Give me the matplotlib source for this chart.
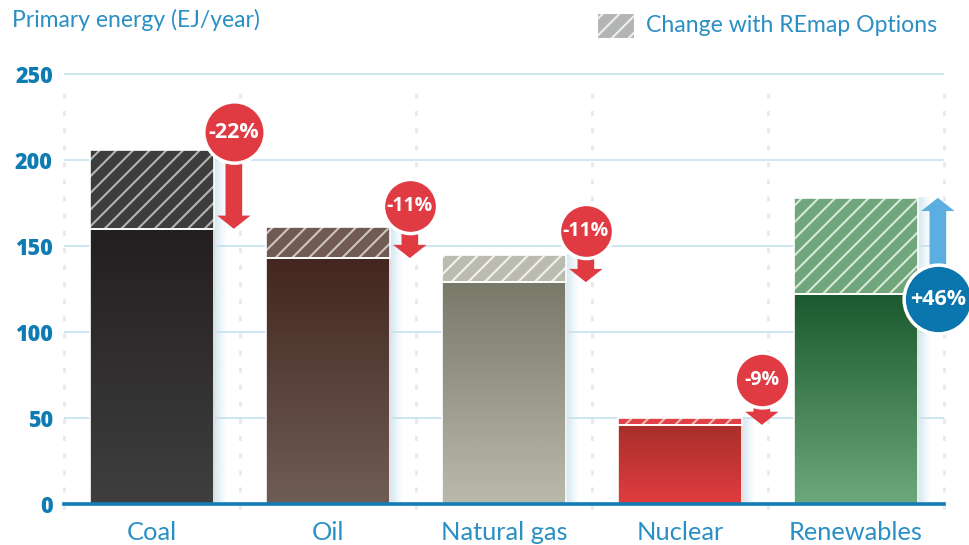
import numpy as np
import matplotlib
matplotlib.use("Agg")
import matplotlib.pyplot as plt
from matplotlib.patches import Rectangle
from matplotlib.colors import to_rgb

plt.rcParams['font.family'] = ['Lato', 'DejaVu Sans']
plt.rcParams['hatch.linewidth'] = 1.5

# --- data ---
categories = ["Coal", "Oil", "Natural gas", "Nuclear", "Renewables"]
reference = [206, 161, 145, 50, 122]     # REmap reference (EJ/year)
remap = [160, 143, 129, 46, 178]         # with REmap Options
change_labels = ["-22%", "-11%", "-11%", "-9%", "+46%"]
yticks = [0, 50, 100, 150, 200, 250]

# --- styles ---
grad_top = ["#231f20", "#43261f", "#79796a", "#a62f2a", "#1b5a2e"]
grad_bot = ["#3f3f3f", "#6e5d56", "#b9baad", "#e23c40", "#6ba87b"]
hatch_face = ["#3d3d3d", "#6f5b53", "#bbbcaf", "#e14048", "#71a57b"]
hatch_line = ["#b4b4b4", "#cfc5bf", "#f2f2ec", "#f7b8b8", "#d6ead8"]
badge_y = [216, 173, 159, 72, 119]
badge_size = [1950, 1520, 1520, 1560, 2450]
badge_font = [15.5, 14, 14, 14, 15.5]
red = "#e03a43"
blue_badge = "#0a76ad"
blue_arrow = "#5aaee0"
text_blue = "#2a8fc4"
tick_blue = "#0f7bb3"
bold_font = ['Open Sans', 'DejaVu Sans']

fig = plt.figure(figsize=(9.7, 5.45), dpi=100)
ax = fig.add_axes([64/970, 1-504/545, 880/970, 262*1.72/545])
ax.set_xlim(-0.5, 4.5)
ax.set_ylim(0, 262)

W = 0.71
x = np.arange(len(categories))

# grid
for t in yticks[1:]:
    ax.axhline(t, color="#c3e1f0", lw=1.2, zorder=0)
for s in np.arange(-0.5, 5, 1.0):
    ax.plot([s, s], [-3, 244], color="#e1edf4", lw=2.2, ls=(0, (1.6, 4)),
            zorder=0, clip_on=False)

for i in range(len(categories)):
    lo, hi = min(reference[i], remap[i]), max(reference[i], remap[i])
    x0 = x[i] - W/2
    # soft shadow on the right
    sh = np.zeros((1, 30, 4))
    sh[..., :3] = to_rgb("#c9e2ef")
    sh[..., 3] = np.linspace(0.8, 0, 30)
    ax.imshow(sh, extent=(x0 + W, x0 + W + 0.07, 0, hi), aspect="auto",
              zorder=1, interpolation="bilinear")
    # gradient base bar
    c1, c2 = np.array(to_rgb(grad_top[i])), np.array(to_rgb(grad_bot[i]))
    t = np.linspace(0, 1, 100)[:, None]
    img = (c1 * (1 - t) + c2 * t)[:, None, :]
    ax.imshow(img, extent=(x0, x0 + W, 0, lo), aspect="auto", zorder=2,
              interpolation="bilinear")
    ax.add_patch(Rectangle((x0, 0), W, lo, facecolor="none", edgecolor="white",
                           lw=1.2, zorder=3))
    # hatched change part
    ax.bar(x[i], hi - lo, W, bottom=lo, color=hatch_face[i],
           edgecolor=hatch_line[i], hatch="//", lw=0, zorder=2)
    ax.add_patch(Rectangle((x0, lo), W, hi - lo, facecolor="none",
                           edgecolor="white", lw=1.2, zorder=3))

    # arrow + badge
    ax_x = x[i] + 0.465
    up = remap[i] > reference[i]
    ac = blue_arrow if up else red
    bc = blue_badge if up else red
    ax.annotate("", xy=(ax_x, remap[i]), xytext=(ax_x, badge_y[i]),
                arrowprops=dict(arrowstyle="simple,head_width=24,head_length=9.5,tail_width=12",
                                mutation_scale=1, fc=ac, ec="none",
                                shrinkA=0, shrinkB=0),
                zorder=4, annotation_clip=False)
    ax.scatter([ax_x], [badge_y[i]], s=badge_size[i], color=bc,
               edgecolor="white", lw=2.5, zorder=5, clip_on=False)
    ax.text(ax_x, badge_y[i], change_labels[i], color="white", fontsize=badge_font[i],
            fontweight="bold", family=bold_font, ha="center", va="center", zorder=6)

# baseline
ax.axhline(0, color="#137cb4", lw=2.6, zorder=4, clip_on=False)

for sp in ax.spines.values():
    sp.set_visible(False)
ax.set_yticks(yticks)
ax.set_yticklabels([str(v) for v in yticks], fontsize=15.5, fontweight="heavy",
                   family=bold_font, color=tick_blue)
ax.set_xticks(x)
ax.set_xticklabels(categories, fontsize=18.3, color=text_blue)
ax.tick_params(axis="y", length=0, pad=8)
ax.tick_params(axis="x", length=0, pad=12)

fig.text(12/970, 1-20/545, "Primary energy (EJ/year)", fontsize=16.5,
         color=text_blue, va="center")
leg = Rectangle((598/970, 1-38/545), 36/970, 24/545, transform=fig.transFigure,
                facecolor="#b3b5b5", edgecolor="#eeeeee", hatch="//", lw=0)
fig.patches.append(leg)
fig.text(646/970, 1-26/545, "Change with REmap Options", fontsize=16.6,
         color=text_blue, va="center")

fig.savefig("out.png", dpi=100)
